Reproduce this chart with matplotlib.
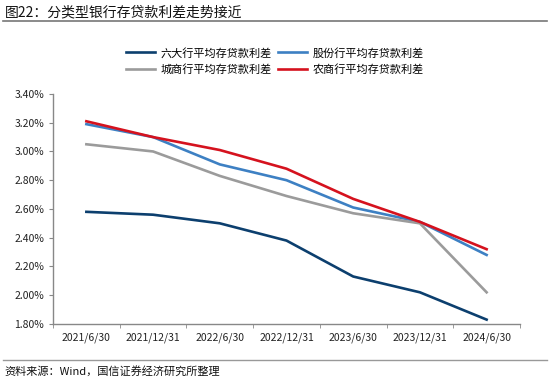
import numpy as np
import matplotlib
matplotlib.use("Agg")
import matplotlib.pyplot as plt
from matplotlib.lines import Line2D

plt.rcParams["font.family"] = ["Noto Sans CJK SC", "DejaVu Sans"]

# ---- data ----
dates = ["2021/6/30", "2021/12/31", "2022/6/30", "2022/12/31",
         "2023/6/30", "2023/12/31", "2024/6/30"]
big6 = [2.58, 2.56, 2.50, 2.38, 2.13, 2.02, 1.83]
joint = [3.19, 3.10, 2.91, 2.80, 2.61, 2.51, 2.28]
city = [3.05, 3.00, 2.83, 2.69, 2.57, 2.50, 2.02]
rural = [3.21, 3.10, 3.01, 2.88, 2.67, 2.51, 2.32]

names = ["六大行平均存贷款利差", "股份行平均存贷款利差",
         "城商行平均存贷款利差", "农商行平均存贷款利差"]
colors = ["#0c3f6e", "#3d80c3", "#9b9b9b", "#d5121e"]
series = [big6, joint, city, rural]

fig = plt.figure(figsize=(5.5, 3.82), dpi=100)
ax = fig.add_axes([0.0964, 0.152, 0.849, 0.602])

x = np.arange(len(dates))
for vals, c in zip(series, colors):
    ax.plot(x, vals, color=c, lw=1.9, solid_joinstyle="round")

ax.set_xlim(-0.5, len(dates) - 0.5)
ax.set_ylim(1.80, 3.40)
yt = np.arange(1.80, 3.41, 0.20)
ax.set_yticks(yt)
ax.set_yticklabels([f"{v:.2f}%" for v in yt])
ax.set_xticks(x)
ax.set_xticklabels(dates)
ax.set_xticks(np.arange(-0.5, len(dates)), minor=True)
ax.tick_params(axis="x", which="major", length=0, pad=6, labelsize=7.5, colors="#222222")
ax.tick_params(axis="x", which="minor", length=3, color="#888888", direction="out")
ax.tick_params(axis="y", length=3, color="#888888", labelsize=7.5, colors="#222222")
for s in ["top", "right"]:
    ax.spines[s].set_visible(False)
for s in ["left", "bottom"]:
    ax.spines[s].set_color("#888888")
    ax.spines[s].set_linewidth(1.0)

# legend: row-wise order (六大, 股份 / 城商, 农商) with column-first fill
order = [0, 2, 1, 3]
handles = [Line2D([0], [0], color=colors[i], lw=1.9) for i in order]
fig.legend(handles, [names[i] for i in order], loc="center",
           bbox_to_anchor=(0.5, 0.84), ncol=2, frameon=False, fontsize=8,
           handlelength=2.6, columnspacing=0.6, handletextpad=0.5,
           labelspacing=0.5)

# title and source
fig.text(0.009, 0.968, "图22：分类型银行存贷款利差走势接近", fontsize=10,
         ha="left", va="center", color="#111111")
fig.add_artist(Line2D([0.005, 0.995], [0.945, 0.945], color="#777777", lw=1.2))
fig.add_artist(Line2D([0.005, 0.995], [0.058, 0.058], color="#999999", lw=1.0))
fig.text(0.009, 0.027, "资料来源：Wind，国信证券经济研究所整理", fontsize=8,
         ha="left", va="center", color="#111111")

fig.savefig("out.png", dpi=100, facecolor="white")
